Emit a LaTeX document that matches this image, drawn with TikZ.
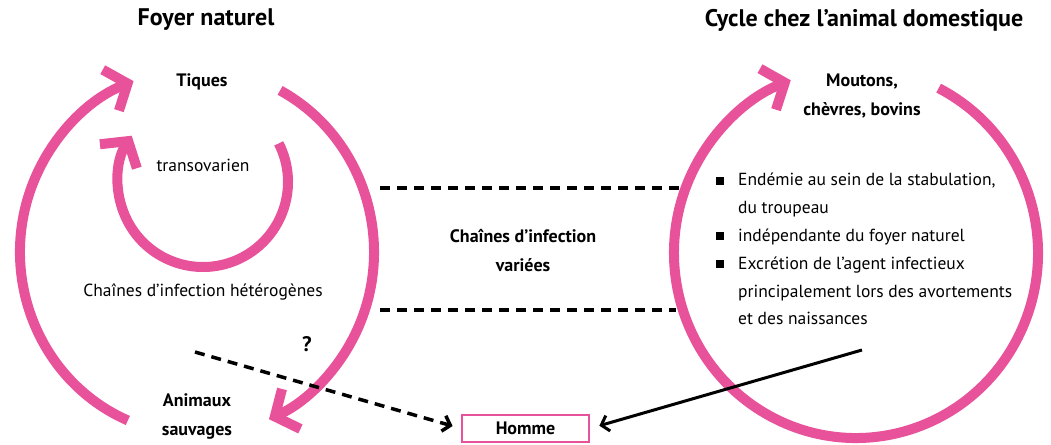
\documentclass[tikz,border=0pt]{standalone}
\usepackage{fontspec}
\setmainfont{PT Sans}
\usetikzlibrary{arrows.meta}
\definecolor{rosa}{HTML}{E8529A}
\tikzset{
	zyklus/.style={draw=rosa, line width=10pt, -{Straight Barb[length=18pt,width=44pt]}},
	kette/.style={line width=3.5pt, dash pattern=on 10pt off 7pt},
	pfeil/.style={line width=3pt, -{Straight Barb[length=7pt,width=16pt]}},
	titel/.style={font=\bfseries\fontsize{24}{28}\selectfont},
	wirt/.style={font=\bfseries\fontsize{18}{29}\selectfont, align=center},
	normal/.style={font=\fontsize{17.5}{28}\selectfont, align=center}
}
\newcommand{\listpunkt}{\llap{\rule[1pt]{8pt}{8pt}\hspace{14pt}}}
\begin{document}
\begin{tikzpicture}[x=1pt, y=-1pt]
		\useasboundingbox (0,0) rectangle (1051,444);
		\coordinate (lc) at (197,252);
		\coordinate (ic) at (203,182);
		\coordinate (rc) at (856,253);
		\node[titel] (foyer) at (206,20) {Foyer naturel};
		\node[titel] (cycle) at (864,20) {Cycle chez l’animal domestique};
		\node[wirt] (tiques) at (202,82) {Tiques};
		\node[normal] (trans) at (203,165) {transovarien};
		\node[normal] (hetero) at (203,292) {Chaînes d’infection hétérogènes};
		\node[wirt] (animaux) at (197,417) {Animaux\\sauvages};
		\node[wirt] (moutons) at (862,96) {Moutons,\\chèvres, bovins};
		\node[wirt] (variees) at (523,251) {Chaînes d’infection\\variées};
		\node[wirt, font=\bfseries\fontsize{21}{24}\selectfont] (frage) at (307,344) {?};
		\node[wirt, draw=rosa, line width=1.5pt, minimum width=127pt, minimum height=27pt, inner sep=0pt] (homme) at (525.5,428.5) {Homme};
		\node[font=\fontsize{17.5}{27.8}\selectfont, align=left, anchor=north west, inner sep=0pt] (liste) at (738,173)
		{\listpunkt Endémie au sein de la stabulation,\\
		du troupeau\\
		\listpunkt indépendante du foyer naturel\\
		\listpunkt Excrétion de l’agent infectieux\\
		principalement lors des avortements\\
		et des naissances};
		\draw[zyklus] (lc) ++(113:177 and 183) arc[start angle=113, end angle=249, x radius=177, y radius=183];
		\draw[zyklus] (lc) ++(-62:177 and 183) arc[start angle=-62, end angle=66, x radius=177, y radius=183];
		\draw[zyklus] (ic) ++(-27:85) arc[start angle=-27, end angle=213, radius=85];
		\draw[zyklus] (rc) ++(-63:182 and 185) arc[start angle=-63, end angle=249, x radius=182, y radius=185];
		\coordinate (k1) at (380,188);
		\coordinate (k2) at (683,188);
		\coordinate (k3) at (380,310);
		\coordinate (k4) at (676,310);
		\coordinate (wild) at (195,352);
		\coordinate (stall) at (862,350);
		\draw[kette] (k1) -- (k2);
		\draw[kette] (k3) -- (k4);
		\draw[pfeil, line width=3.5pt, dash pattern=on 10pt off 7pt, shorten >=9pt] (wild) -- (homme.west);
		\draw[pfeil, shorten >=10pt] (stall) -- (homme.east);
\end{tikzpicture}
\end{document}
